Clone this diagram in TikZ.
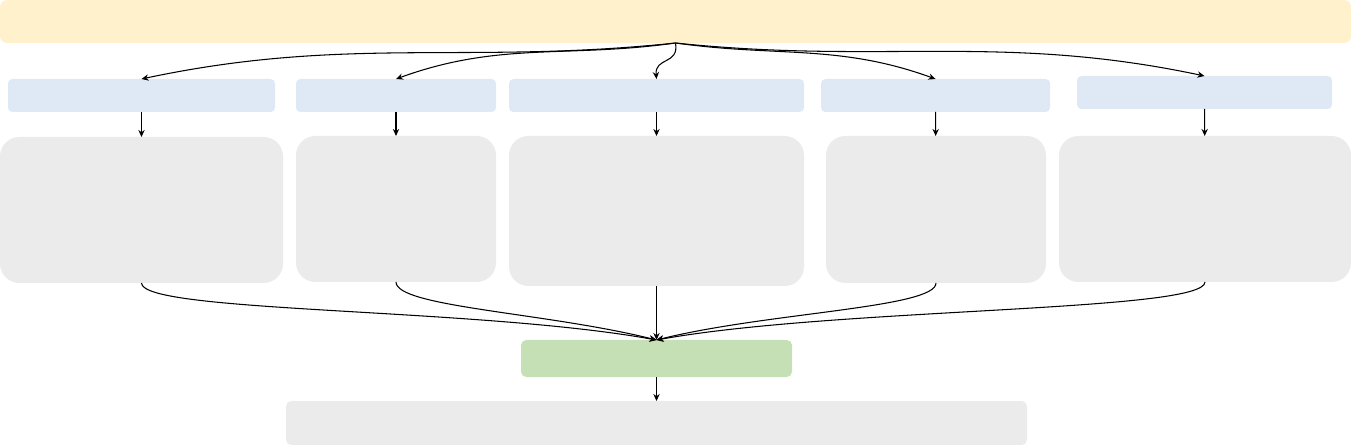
\documentclass[tikz,border=0pt]{standalone}
\usetikzlibrary{arrows.meta}
\definecolor{topfill}{HTML}{FFF1CC}
\definecolor{stepfill}{HTML}{DEE9F5}
\definecolor{greyfill}{HTML}{EBEBEB}
\definecolor{mergefill}{HTML}{C5E0B4}
\begin{document}
\begin{tikzpicture}[
    base/.style={inner sep=0pt, outer sep=0pt, draw=none},
    topbox/.style={base, fill=topfill, rounded corners=4pt, minimum width=27.02cm, minimum height=0.86cm},
    stepbox/.style={base, fill=stepfill, rounded corners=2.5pt, minimum height=0.66cm},
    detailbox/.style={base, fill=greyfill, rounded corners=11pt},
    mergebox/.style={base, fill=mergefill, rounded corners=3pt, minimum width=5.42cm, minimum height=0.74cm},
    endbox/.style={base, fill=greyfill, rounded corners=3pt, minimum width=14.82cm, minimum height=0.88cm}]
      \useasboundingbox (0,0) rectangle (27.02,-8.9);
      \draw
        (13.51,-0.43) node[topbox] (top){}
        (2.83,-1.91) node[stepbox, minimum width=5.34cm] (s1){}
        (7.92,-1.91) node[stepbox, minimum width=4.00cm] (s2){}
        (13.13,-1.91) node[stepbox, minimum width=5.90cm] (s3){}
        (18.71,-1.91) node[stepbox, minimum width=4.58cm] (s4){}
        (24.09,-1.85) node[stepbox, minimum width=5.10cm] (s5){}
        (2.83,-4.20) node[detailbox, minimum width=5.66cm, minimum height=2.92cm] (d1){}
        (7.92,-4.18) node[detailbox, minimum width=4.00cm, minimum height=2.92cm] (d2){}
        (13.13,-4.22) node[detailbox, minimum width=5.90cm, minimum height=3.00cm] (d3){}
        (18.72,-4.19) node[detailbox, minimum width=4.40cm, minimum height=2.94cm] (d4){}
        (24.10,-4.18) node[detailbox, minimum width=5.84cm, minimum height=2.92cm] (d5){}
        (13.13,-7.17) node[mergebox] (m){}
        (13.13,-8.46) node[endbox] (e){};
      \begin{scope}[line width=0.6pt, -{Stealth[length=4pt, width=3.6pt]}]
        \draw (top.south) to[out=186, in=12] (s1.north);
        \draw (top.south) to[out=188, in=20] (s2.north);
        \draw (top.south) to[out=-80, in=95, looseness=1.4] (s3.north);
        \draw (top.south) to[out=-8, in=160] (s4.north);
        \draw (top.south) to[out=-6, in=168] (s5.north);
        \draw (s1) to (d1);
        \draw (s2) to (d2);
        \draw (s3) to (d3);
        \draw (s4) to (d4);
        \draw (s5) to (d5);
        \draw (d1.south) .. controls +(0,-0.6) and +(-3.6,0.65) .. (m.north);
        \draw (d2.south) .. controls +(0,-0.5) and +(-2.2,0.55) .. (m.north);
        \draw (d3) to (m);
        \draw (d4.south) .. controls +(0,-0.5) and +(2.2,0.55) .. (m.north);
        \draw (d5.south) .. controls +(0,-0.6) and +(3.6,0.65) .. (m.north);
        \draw (m) to (e);
      \end{scope}
    \end{tikzpicture}
\end{document}
